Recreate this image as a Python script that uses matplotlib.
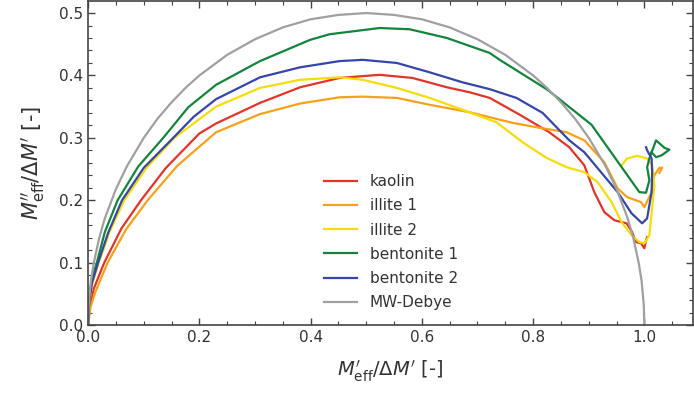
import numpy as np
import matplotlib.pyplot as plt
from matplotlib.ticker import MultipleLocator

# data (x = M'_eff/dM', y = M''_eff/dM')
kaolin_x = [0.0, 0.003, 0.010, 0.029, 0.060, 0.095, 0.140, 0.200, 0.230, 0.309, 0.381, 0.452,
            0.524, 0.583, 0.645, 0.686, 0.722, 0.776, 0.829, 0.865, 0.892, 0.910, 0.928, 0.946,
            0.968, 0.978, 0.985, 0.994, 1.000, 1.003, 1.005]
kaolin_y = [0.0, 0.030, 0.058, 0.100, 0.155, 0.200, 0.252, 0.307, 0.323, 0.356, 0.381, 0.396,
            0.401, 0.396, 0.381, 0.373, 0.364, 0.337, 0.309, 0.285, 0.256, 0.213, 0.181, 0.168,
            0.163, 0.149, 0.133, 0.131, 0.123, 0.136, 0.141]

illite1_x = [0.0, 0.004, 0.013, 0.035, 0.068, 0.107, 0.160, 0.230, 0.309, 0.381, 0.452, 0.494,
             0.555, 0.614, 0.686, 0.763, 0.806, 0.860, 0.892, 0.928, 0.952, 0.969, 0.994, 1.000,
             1.006, 1.013, 1.018, 1.027, 1.032, 1.027]
illite1_y = [0.0, 0.028, 0.053, 0.100, 0.153, 0.200, 0.255, 0.309, 0.338, 0.355, 0.365, 0.366,
             0.364, 0.353, 0.341, 0.324, 0.317, 0.309, 0.296, 0.261, 0.219, 0.205, 0.197, 0.189,
             0.200, 0.213, 0.240, 0.252, 0.252, 0.244]

illite2_x = [0.0, 0.002, 0.007, 0.019, 0.038, 0.065, 0.105, 0.155, 0.230, 0.309, 0.381, 0.452,
             0.494, 0.555, 0.614, 0.673, 0.734, 0.781, 0.824, 0.860, 0.892, 0.916, 0.941, 0.959,
             0.977, 0.991, 1.000, 1.009, 1.014, 1.018, 1.014, 1.005, 0.987, 0.969, 0.959]
illite2_y = [0.0, 0.036, 0.065, 0.100, 0.148, 0.200, 0.252, 0.300, 0.350, 0.380, 0.393, 0.397,
             0.393, 0.380, 0.364, 0.345, 0.325, 0.293, 0.268, 0.253, 0.245, 0.229, 0.197, 0.165,
             0.144, 0.133, 0.131, 0.144, 0.188, 0.224, 0.256, 0.267, 0.271, 0.267, 0.256]

bent1_x = [0.0, 0.002, 0.006, 0.0156, 0.030, 0.053, 0.090, 0.135, 0.180, 0.230, 0.309, 0.399,
           0.434, 0.524, 0.578, 0.645, 0.722, 0.740, 0.826, 0.905, 0.991, 1.003, 1.009, 1.005,
           1.009, 1.021, 1.036, 1.045, 1.031, 1.021, 1.013]
bent1_y = [0.0, 0.042, 0.072, 0.100, 0.149, 0.200, 0.254, 0.300, 0.349, 0.385, 0.423, 0.457,
           0.466, 0.476, 0.474, 0.460, 0.436, 0.425, 0.377, 0.321, 0.213, 0.212, 0.232, 0.253,
           0.267, 0.296, 0.284, 0.281, 0.272, 0.269, 0.277]

bent2_x = [0.0, 0.002, 0.007, 0.018, 0.036, 0.061, 0.100, 0.153, 0.190, 0.230, 0.309, 0.381,
           0.452, 0.494, 0.555, 0.614, 0.673, 0.722, 0.770, 0.817, 0.865, 0.892, 0.952, 0.977,
           0.996, 1.005, 1.013, 1.014, 1.013, 1.005, 1.003]
bent2_y = [0.0, 0.038, 0.068, 0.100, 0.148, 0.200, 0.252, 0.300, 0.334, 0.362, 0.397, 0.413,
           0.423, 0.425, 0.420, 0.405, 0.389, 0.378, 0.364, 0.340, 0.296, 0.277, 0.213, 0.179,
           0.163, 0.171, 0.213, 0.245, 0.267, 0.280, 0.285]

debye_x = [0.0, 0.001, 0.005, 0.01, 0.02, 0.03, 0.05, 0.07, 0.1, 0.125, 0.15, 0.175, 0.2, 0.25,
           0.3, 0.35, 0.4, 0.45, 0.5, 0.55, 0.6, 0.65, 0.7, 0.75, 0.8, 0.825, 0.85, 0.875, 0.9,
           0.93, 0.95, 0.97, 0.98, 0.99, 0.995, 0.999, 1.0]
debye_y = [0.0, 0.032, 0.071, 0.099, 0.140, 0.171, 0.218, 0.255, 0.300, 0.331, 0.357, 0.380,
           0.400, 0.433, 0.458, 0.477, 0.490, 0.497, 0.500, 0.497, 0.490, 0.477, 0.458, 0.433,
           0.400, 0.380, 0.357, 0.331, 0.300, 0.255, 0.218, 0.171, 0.140, 0.099, 0.071, 0.032,
           0.0]

series = [
    ("kaolin", kaolin_x, kaolin_y, "#e3342a"),
    ("illite 1", illite1_x, illite1_y, "#f7a11a"),
    ("illite 2", illite2_x, illite2_y, "#f5dc0a"),
    ("bentonite 1", bent1_x, bent1_y, "#14843c"),
    ("bentonite 2", bent2_x, bent2_y, "#3446a8"),
    ("MW-Debye", debye_x, debye_y, "#a0a0a0"),
]

fig = plt.figure(figsize=(6.94, 3.94), dpi=100)
ax = fig.add_axes([0.127, 0.175, 0.872, 0.822])

for name, x, y, c in series:
    ax.plot(x, y, color=c, lw=1.6, label=name, solid_joinstyle='round')

ax.set_xlim(0, 1.088)
ax.set_ylim(0, 0.519)
ax.xaxis.set_major_locator(MultipleLocator(0.2))
ax.xaxis.set_minor_locator(MultipleLocator(0.05))
ax.yaxis.set_major_locator(MultipleLocator(0.1))
ax.yaxis.set_minor_locator(MultipleLocator(0.02))
ax.tick_params(which='both', direction='in', top=True, right=True, colors='#444444',
               labelcolor='#333333', labelsize=11)
ax.tick_params(which='major', length=5, width=1)
ax.tick_params(which='minor', length=3, width=0.8)
for s in ax.spines.values():
    s.set_color('#444444')
    s.set_linewidth(1.2)

ax.set_xlabel(r"$M^{\prime}_{\mathrm{eff}}/\Delta M^{\prime}$ [-]", fontsize=14,
              color='#333333', labelpad=10)
ax.set_ylabel(r"$M^{\prime\prime}_{\mathrm{eff}}/\Delta M^{\prime}$ [-]", fontsize=15,
              color='#333333', labelpad=9)

leg = ax.legend(loc='center', bbox_to_anchor=(0.5, 0.256), frameon=False, fontsize=11,
                handlelength=2.2, labelspacing=0.6)
for t in leg.get_texts():
    t.set_color('#333333')

fig.savefig("out.png", dpi=100)
